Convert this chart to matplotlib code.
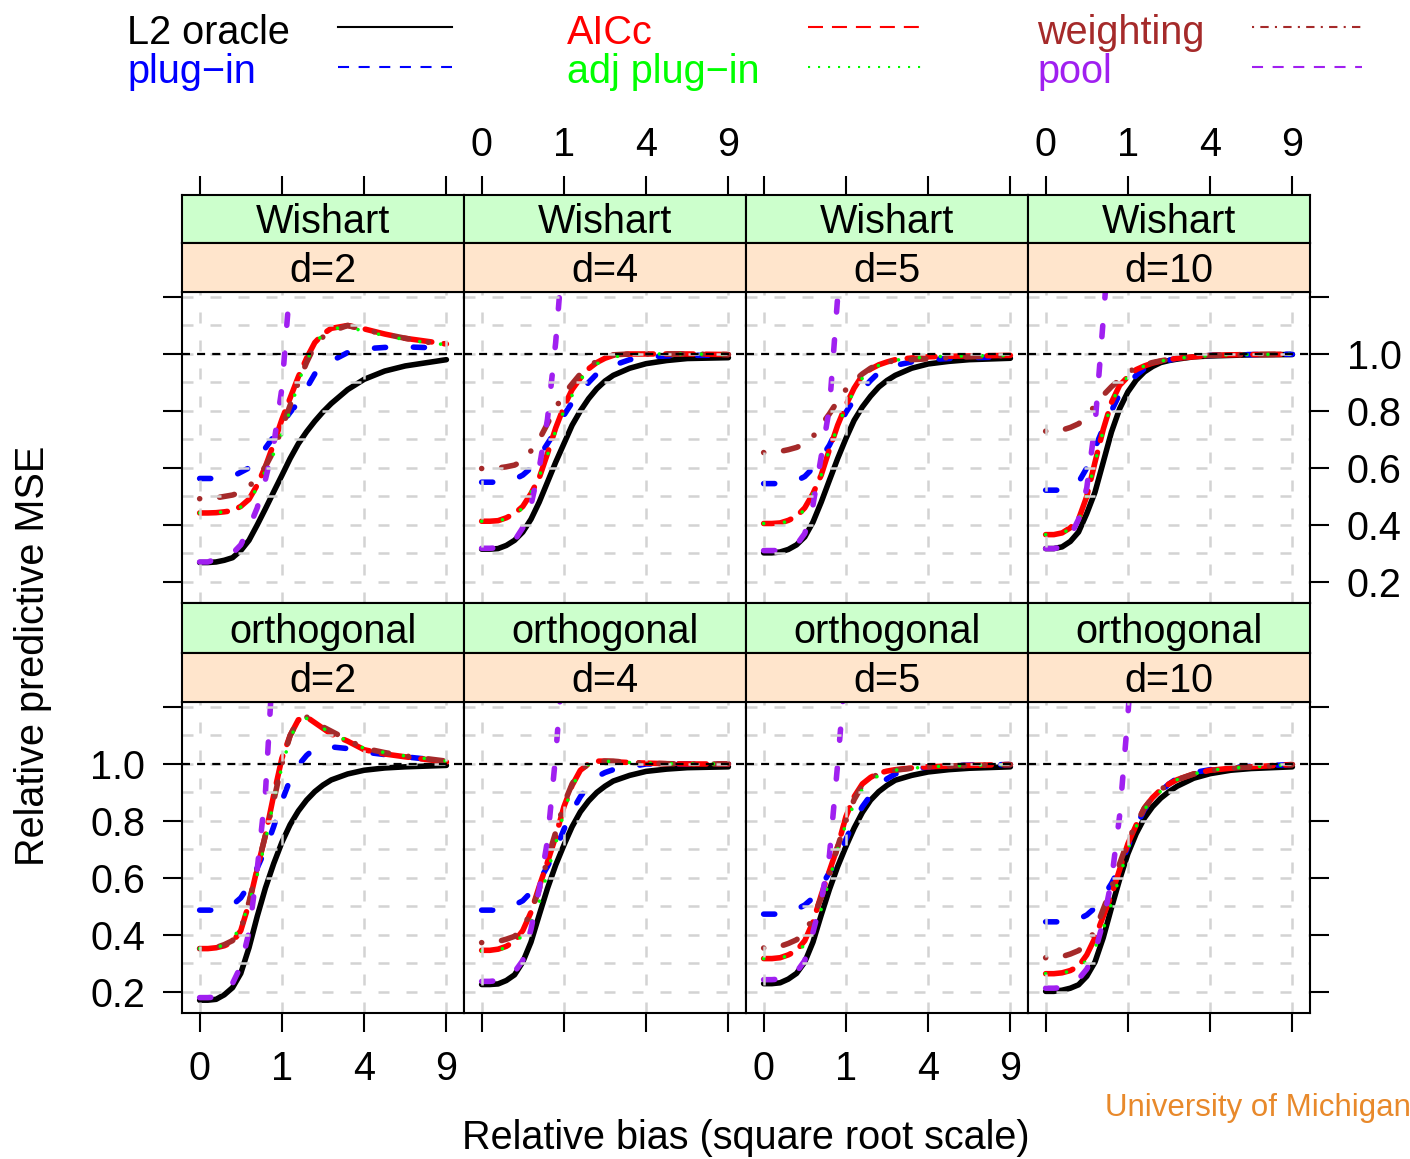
import numpy as np
import matplotlib
matplotlib.use('Agg')
import matplotlib.pyplot as plt
from matplotlib.lines import Line2D

plt.rcParams['font.family'] = ['Liberation Sans', 'DejaVu Sans']

nan = np.nan

# relative bias values where curves were read (axis uses a square root scale)
bias = [0, 0.01, 0.04, 0.09, 0.16, 0.25, 0.36, 0.49, 0.64, 0.81, 1.0, 1.21,
        1.44, 1.69, 1.96, 2.25, 2.56, 3.24, 4.0, 5.0625, 6.25, 9.0]

settings = ['Wishart', 'orthogonal']
dims = ['d=2', 'd=4', 'd=5', 'd=10']
x_ticks = [0, 1, 4, 9]
x_tick_labels = ['0', '1', '4', '9']
y_ticks = [0.2, 0.4, 0.6, 0.8, 1.0, 1.2]
y_tick_labels = ['0.2', '0.4', '0.6', '0.8', '1.0', '']

# rows: Wishart d=2,4,5,10 then orthogonal d=2,4,5,10
l2_oracle = [
    [0.268, 0.268, 0.27, 0.276, 0.285, 0.31, 0.346, 0.40, 0.457, 0.516, 0.574, 0.633, 0.685, 0.727, 0.764, 0.797, 0.826, 0.875, 0.911, 0.94, 0.958, 0.98],
    [0.315, 0.315, 0.317, 0.328, 0.346, 0.375, 0.42, 0.48, 0.55, 0.62, 0.685, 0.75, 0.80, 0.843, 0.878, 0.905, 0.925, 0.95, 0.966, 0.977, 0.984, 0.987],
    [0.302, 0.302, 0.305, 0.314, 0.33, 0.358, 0.41, 0.48, 0.557, 0.633, 0.703, 0.767, 0.814, 0.852, 0.884, 0.907, 0.925, 0.95, 0.965, 0.974, 0.98, 0.985],
    [0.317, 0.317, 0.323, 0.342, 0.375, 0.44, 0.515, 0.62, 0.726, 0.808, 0.867, 0.908, 0.937, 0.956, 0.97, 0.977, 0.982, 0.99, 0.993, 0.995, 0.997, 0.998],
    [0.171, 0.171, 0.174, 0.19, 0.215, 0.265, 0.355, 0.465, 0.565, 0.65, 0.725, 0.787, 0.835, 0.873, 0.903, 0.926, 0.944, 0.965, 0.978, 0.986, 0.99, 0.995],
    [0.226, 0.226, 0.228, 0.24, 0.26, 0.305, 0.375, 0.47, 0.563, 0.645, 0.715, 0.78, 0.832, 0.87, 0.90, 0.922, 0.94, 0.96, 0.974, 0.982, 0.987, 0.99],
    [0.229, 0.229, 0.232, 0.245, 0.265, 0.305, 0.375, 0.47, 0.56, 0.64, 0.71, 0.775, 0.83, 0.873, 0.903, 0.925, 0.943, 0.96, 0.972, 0.98, 0.985, 0.99],
    [0.202, 0.202, 0.206, 0.213, 0.225, 0.255, 0.305, 0.39, 0.495, 0.595, 0.685, 0.755, 0.81, 0.85, 0.88, 0.903, 0.922, 0.95, 0.966, 0.978, 0.984, 0.99],
]
plug_in = [
    [0.563, 0.563, 0.563, 0.565, 0.57, 0.585, 0.60, 0.63, 0.67, 0.71, 0.755, 0.795, 0.83, 0.88, 0.93, 0.955, 0.975, 1.005, 1.018, 1.023, 1.025, 1.02],
    [0.55, 0.55, 0.55, 0.553, 0.56, 0.575, 0.60, 0.64, 0.685, 0.73, 0.785, 0.83, 0.865, 0.90, 0.93, 0.947, 0.96, 0.98, 0.99, 0.993, 0.995, 0.996],
    [0.545, 0.545, 0.545, 0.548, 0.555, 0.57, 0.60, 0.635, 0.68, 0.74, 0.795, 0.84, 0.875, 0.907, 0.935, 0.95, 0.96, 0.972, 0.98, 0.984, 0.987, 0.99],
    [0.522, 0.522, 0.522, 0.532, 0.55, 0.60, 0.67, 0.74, 0.80, 0.86, 0.895, 0.925, 0.948, 0.96, 0.97, 0.978, 0.985, 0.99, 0.995, 0.997, 0.998, 0.999],
    [0.487, 0.487, 0.487, 0.494, 0.505, 0.53, 0.575, 0.635, 0.70, 0.78, 0.87, 0.945, 0.995, 1.03, 1.055, 1.06, 1.06, 1.054, 1.042, 1.033, 1.025, 1.01],
    [0.487, 0.487, 0.487, 0.494, 0.505, 0.52, 0.55, 0.59, 0.64, 0.70, 0.77, 0.835, 0.885, 0.925, 0.955, 0.97, 0.98, 0.99, 1.0, 1.0, 1.0, 1.0],
    [0.473, 0.473, 0.473, 0.48, 0.49, 0.505, 0.53, 0.57, 0.62, 0.67, 0.735, 0.80, 0.85, 0.89, 0.925, 0.948, 0.965, 0.98, 0.99, 0.994, 0.996, 0.998],
    [0.446, 0.446, 0.446, 0.45, 0.455, 0.47, 0.495, 0.535, 0.58, 0.635, 0.71, 0.78, 0.84, 0.875, 0.905, 0.93, 0.95, 0.97, 0.98, 0.987, 0.992, 0.998],
]
aicc = [
    [0.442, 0.442, 0.443, 0.446, 0.45, 0.465, 0.49, 0.54, 0.605, 0.685, 0.77, 0.845, 0.92, 0.985, 1.04, 1.07, 1.09, 1.10, 1.088, 1.07, 1.055, 1.035],
    [0.413, 0.413, 0.415, 0.425, 0.44, 0.465, 0.51, 0.565, 0.65, 0.74, 0.815, 0.875, 0.915, 0.948, 0.97, 0.985, 0.995, 1.0, 1.0, 1.0, 1.0, 0.998],
    [0.405, 0.405, 0.407, 0.416, 0.43, 0.46, 0.51, 0.575, 0.665, 0.75, 0.82, 0.88, 0.925, 0.947, 0.962, 0.972, 0.98, 0.986, 0.99, 0.992, 0.993, 0.995],
    [0.366, 0.366, 0.372, 0.39, 0.42, 0.50, 0.62, 0.735, 0.83, 0.89, 0.92, 0.945, 0.958, 0.968, 0.975, 0.98, 0.985, 0.99, 0.995, 0.997, 0.998, 0.999],
    [0.352, 0.352, 0.355, 0.362, 0.375, 0.415, 0.51, 0.633, 0.75, 0.89, 1.02, 1.10, 1.155, 1.165, 1.145, 1.125, 1.105, 1.08, 1.05, 1.035, 1.025, 1.007],
    [0.346, 0.346, 0.35, 0.36, 0.378, 0.415, 0.48, 0.57, 0.655, 0.745, 0.85, 0.925, 0.978, 1.0, 1.01, 1.01, 1.008, 1.005, 1.003, 1.001, 1.0, 1.0],
    [0.317, 0.317, 0.32, 0.33, 0.345, 0.38, 0.445, 0.54, 0.625, 0.71, 0.815, 0.885, 0.93, 0.953, 0.968, 0.975, 0.98, 0.986, 0.99, 0.993, 0.995, 0.998],
    [0.264, 0.264, 0.267, 0.275, 0.29, 0.33, 0.39, 0.465, 0.54, 0.63, 0.72, 0.785, 0.845, 0.882, 0.91, 0.93, 0.945, 0.965, 0.978, 0.985, 0.99, 0.998],
]
adj_plug_in = [
    [0.442, 0.442, 0.443, 0.446, 0.45, 0.463, 0.485, 0.53, 0.59, 0.65, 0.72, 0.80, 0.90, 0.975, 1.035, 1.07, 1.088, 1.095, 1.08, 1.065, 1.05, 1.032],
    [0.413, 0.413, 0.414, 0.422, 0.435, 0.46, 0.515, 0.57, 0.645, 0.73, 0.80, 0.855, 0.91, 0.942, 0.965, 0.98, 0.99, 0.997, 1.0, 1.0, 1.0, 0.998],
    [0.405, 0.405, 0.406, 0.413, 0.425, 0.455, 0.51, 0.575, 0.665, 0.745, 0.815, 0.87, 0.915, 0.942, 0.96, 0.97, 0.978, 0.985, 0.99, 0.992, 0.993, 0.995],
    [0.366, 0.366, 0.37, 0.387, 0.415, 0.50, 0.62, 0.73, 0.825, 0.89, 0.92, 0.945, 0.958, 0.968, 0.975, 0.98, 0.985, 0.99, 0.995, 0.997, 0.998, 0.999],
    [0.352, 0.352, 0.355, 0.366, 0.385, 0.43, 0.51, 0.61, 0.73, 0.87, 0.99, 1.09, 1.15, 1.16, 1.14, 1.125, 1.11, 1.08, 1.055, 1.04, 1.028, 1.01],
    [0.344, 0.344, 0.347, 0.356, 0.37, 0.40, 0.446, 0.515, 0.62, 0.72, 0.83, 0.92, 0.975, 0.998, 1.01, 1.01, 1.008, 1.005, 1.003, 1.001, 1.0, 1.0],
    [0.317, 0.317, 0.319, 0.327, 0.34, 0.365, 0.42, 0.49, 0.595, 0.70, 0.79, 0.86, 0.91, 0.94, 0.96, 0.97, 0.978, 0.985, 0.99, 0.993, 0.995, 0.998],
    [0.264, 0.264, 0.266, 0.273, 0.285, 0.31, 0.355, 0.42, 0.51, 0.605, 0.70, 0.78, 0.84, 0.877, 0.905, 0.928, 0.945, 0.965, 0.978, 0.985, 0.99, 0.998],
]
weighting = [
    [0.492, 0.492, 0.495, 0.50, 0.505, 0.515, 0.535, 0.565, 0.605, 0.66, 0.74, 0.82, 0.90, 0.97, 1.03, 1.06, 1.08, 1.10, 1.085, 1.07, 1.055, 1.03],
    [0.598, 0.598, 0.60, 0.604, 0.61, 0.625, 0.66, 0.70, 0.755, 0.81, 0.86, 0.895, 0.93, 0.955, 0.975, 0.99, 0.997, 1.0, 1.0, 1.0, 1.0, 0.998],
    [0.654, 0.654, 0.658, 0.664, 0.672, 0.685, 0.71, 0.75, 0.79, 0.835, 0.875, 0.905, 0.93, 0.95, 0.965, 0.972, 0.976, 0.98, 0.983, 0.987, 0.99, 0.995],
    [0.729, 0.729, 0.733, 0.742, 0.755, 0.78, 0.82, 0.855, 0.885, 0.91, 0.935, 0.952, 0.962, 0.97, 0.976, 0.981, 0.985, 0.99, 0.995, 0.997, 0.998, 0.999],
    [0.352, 0.352, 0.356, 0.366, 0.38, 0.42, 0.515, 0.635, 0.75, 0.87, 1.0, 1.10, 1.155, 1.165, 1.145, 1.13, 1.115, 1.085, 1.055, 1.04, 1.028, 1.01],
    [0.373, 0.373, 0.377, 0.385, 0.395, 0.425, 0.48, 0.56, 0.665, 0.76, 0.86, 0.93, 0.978, 1.0, 1.01, 1.01, 1.01, 1.005, 1.003, 1.001, 1.0, 1.0],
    [0.354, 0.354, 0.36, 0.37, 0.383, 0.41, 0.46, 0.53, 0.61, 0.71, 0.80, 0.875, 0.925, 0.95, 0.965, 0.972, 0.978, 0.985, 0.99, 0.993, 0.995, 0.998],
    [0.32, 0.32, 0.324, 0.333, 0.345, 0.37, 0.415, 0.49, 0.565, 0.65, 0.73, 0.79, 0.845, 0.882, 0.91, 0.93, 0.945, 0.965, 0.978, 0.985, 0.99, 0.998],
]
# pool runs off the top of each panel; later values are not visible
pool = [
    [0.27, 0.27, 0.28, 0.288, 0.30, 0.33, 0.39, 0.46, 0.56, 0.68, 0.88, 1.25, 1.6] + [nan] * 9,
    [0.318, 0.318, 0.32, 0.33, 0.345, 0.39, 0.47, 0.60, 0.77, 1.04, 1.4] + [nan] * 11,
    [0.31, 0.31, 0.31, 0.318, 0.33, 0.37, 0.47, 0.64, 0.81, 1.2, 1.6] + [nan] * 11,
    [0.317, 0.317, 0.323, 0.36, 0.42, 0.53, 0.75, 1.12, 1.5] + [nan] * 13,
    [0.18, 0.18, 0.182, 0.20, 0.23, 0.29, 0.41, 0.63, 0.90, 1.4] + [nan] * 12,
    [0.237, 0.237, 0.24, 0.252, 0.27, 0.31, 0.42, 0.56, 0.73, 1.03, 1.4] + [nan] * 11,
    [0.243, 0.243, 0.245, 0.255, 0.27, 0.31, 0.41, 0.52, 0.68, 1.0, 1.35] + [nan] * 11,
    [0.213, 0.213, 0.215, 0.228, 0.245, 0.28, 0.34, 0.446, 0.59, 0.82, 1.17, 1.6] + [nan] * 10,
]

BLUE, RED, GREEN, BROWN, PURPLE = '#0000FF', '#FF0000', '#00FF00', '#A52A2A', '#A020F0'

# (data, colour, width, dashes in panels, dashes in key, label)
methods = [
    (l2_oracle, 'black', 4.0, None, None, 'L2 oracle'),
    (plug_in, BLUE, 4.0, (2.0, 5.0), (5.3, 4.6), 'plug\u2212in'),
    (aicc, RED, 4.0, (5.0, 2.2), (7.2, 4.3), 'AICc'),
    (weighting, BROWN, 4.0, (0.01, 3.6, 2.7, 3.6), (1, 3, 4, 3), 'weighting'),
    (adj_plug_in, GREEN, 2.6, (0.01, 5.8), (1, 3.8), 'adj plug\u2212in'),
    (pool, PURPLE, 4.0, (2.0, 5.0), (5.3, 4.6), 'pool'),
]

W, H = 1410, 1159
fig = plt.figure(figsize=(W / 100, H / 100), dpi=100)
FS = 28.5


def box(x0, y0, x1, y1):
    return [x0 / W, 1 - y1 / H, (x1 - x0) / W, (y1 - y0) / H]


def fwd(v):
    v = np.asarray(v, dtype=float)
    return np.sign(v) * np.sqrt(np.abs(v))


def inv(u):
    u = np.asarray(u, dtype=float)
    return np.sign(u) * u ** 2


XLIM = (-0.046, 10.33)
YLIM = (0.126, 1.2175)
GRID = dict(color='#d3d3d3', lw=1.8, dashes=(4.4, 6.8), zorder=3)

row_top = [(195, 243, 292, 603), (603, 653, 702, 1013)]
for r in range(2):
    s0, s1, p0, p1 = row_top[r]
    for c in range(4):
        x0 = 182 + 282 * c
        x1 = x0 + 282
        k = r * 4 + c

        ax = fig.add_axes(box(x0, p0, x1, p1))
        ax.set_xscale('function', functions=(fwd, inv))
        ax.set_xlim(*XLIM)
        ax.set_ylim(*YLIM)
        for data, col, lw, dsh, _, _ in methods:
            kw = dict(color=col, lw=lw, zorder=2, solid_capstyle='round',
                      dash_capstyle='round', solid_joinstyle='round')
            if dsh is not None:
                kw['dashes'] = dsh
            ax.plot(bias, data[k], **kw)
        for yv in np.arange(0.2, 1.21, 0.1):
            ax.axhline(yv, **GRID)
        for xv in x_ticks:
            ax.axvline(xv, **GRID)
        ax.axhline(1.0, color='black', lw=1.6, dashes=(3.6, 3.2), zorder=4)

        ax.set_xticks(x_ticks)
        ax.set_xticklabels(x_tick_labels)
        ax.set_yticks(y_ticks)
        ax.set_yticklabels(y_tick_labels)
        ax.tick_params(axis='both', direction='out', length=13.5, width=1.5,
                       labelsize=FS, colors='black')
        ax.tick_params(axis='x', top=False, bottom=(r == 1),
                       labelbottom=(r == 1 and c % 2 == 0), labeltop=False, pad=13)
        ax.tick_params(axis='y', left=(c == 0), right=(c == 3),
                       labelleft=(c == 0 and r == 1),
                       labelright=(c == 3 and r == 0), pad=13)
        ax.minorticks_off()
        for sp in ax.spines.values():
            sp.set_linewidth(1.5)
            sp.set_zorder(6)

        # strips
        for (t0, t1, fc, txt) in [(s0, s1, '#CCFFCC', settings[r]),
                                  (s1, p0, '#FFE5CC', dims[c])]:
            sa = fig.add_axes(box(x0, t0, x1, t1))
            sa.set_facecolor(fc)
            sa.set_xscale('function', functions=(fwd, inv))
            sa.set_xlim(*XLIM)
            sa.set_ylim(0, 1)
            sa.set_yticks([])
            sa.text(0.5, 0.2, txt, transform=sa.transAxes, ha='center',
                    va='baseline', fontsize=FS)
            for sp in sa.spines.values():
                sp.set_linewidth(1.5)
            if r == 0 and fc == '#CCFFCC':
                sa.set_xticks(x_ticks)
                sa.set_xticklabels(x_tick_labels)
                sa.minorticks_off()
                sa.tick_params(axis='x', direction='out', length=13.5, width=1.5,
                               labelsize=FS, top=True, bottom=False,
                               labeltop=(c % 2 == 1), labelbottom=False, pad=9)
            else:
                sa.set_xticks([])
                sa.minorticks_off()

# key at top
key_cols = [(127, 338, 452), (567, 808, 925), (1037, 1252, 1362)]
key_rows = [(44, 27), (83, 67)]
order = [0, 2, 3, 1, 4, 5]
for i, m in enumerate(order):
    data, col, lw, _, kd, lab = methods[m]
    rr, cc = divmod(i, 3)
    tx, lx0, lx1 = key_cols[cc]
    base, ly = key_rows[rr]
    fig.text(tx / W, 1 - base / H, lab, color=col, fontsize=FS,
             ha='left', va='baseline')
    ln = Line2D([lx0 / W, lx1 / W], [1 - ly / H, 1 - ly / H], color=col,
                lw=1.5, transform=fig.transFigure)
    if kd is not None:
        ln.set_dashes(kd)
    fig.add_artist(ln)

fig.text(746 / W, 1 - 1138 / H, 'Relative bias (square root scale)',
         fontsize=FS, ha='center', va='center')
fig.text(33 / W, 1 - 656 / H, 'Relative predictive MSE', fontsize=FS,
         ha='center', va='center', rotation=90)
fig.text(1105 / W, 1 - 1108 / H, 'University of Michigan', fontsize=22.5,
         color='#E8892B', ha='left', va='center')

fig.savefig('out.png', dpi=100)
